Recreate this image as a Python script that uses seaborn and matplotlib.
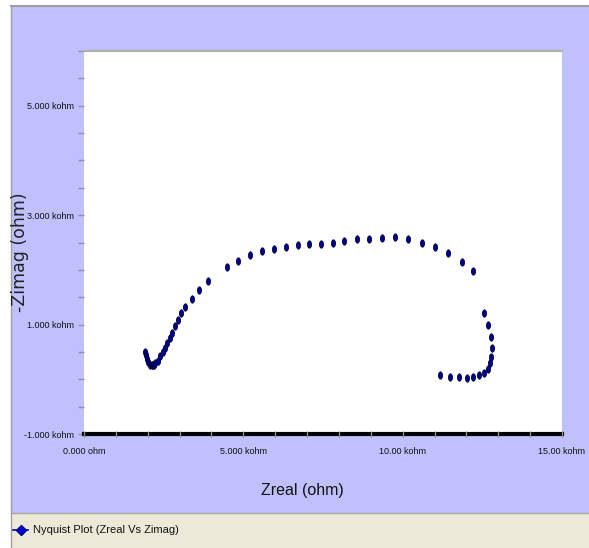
import matplotlib
matplotlib.use("Agg")
import numpy as np
import pandas as pd
import seaborn as sns
import matplotlib.pyplot as plt
from matplotlib.path import Path
from matplotlib.patches import Rectangle
from matplotlib.lines import Line2D
from matplotlib.ticker import MultipleLocator

# ---- data (kohm) ----
zreal_kohm = [1.91, 1.94, 1.97, 2.02, 2.07, 2.12, 2.15, 2.19, 2.23, 2.31, 2.39, 2.47, 2.54, 2.62,
              2.70, 2.77, 2.87, 2.95, 3.03,
              3.17, 3.38, 3.61, 3.88, 4.48, 4.84, 5.22, 5.58, 5.97, 6.35, 6.71, 7.07, 7.44, 7.81,
              8.17, 8.56, 8.94, 9.34, 9.76, 10.17, 10.60, 11.02, 11.43, 11.85, 12.20,
              12.56, 12.68, 12.77, 12.80, 12.78, 12.74, 12.68, 12.54, 12.39, 12.21, 12.02, 11.76,
              11.48, 11.17]
zimag_kohm = [0.50, 0.44, 0.37, 0.31, 0.27, 0.26, 0.27, 0.27, 0.29, 0.34, 0.42, 0.49, 0.57, 0.66,
              0.75, 0.85, 0.97, 1.08, 1.21,
              1.32, 1.47, 1.63, 1.80, 2.05, 2.17, 2.28, 2.34, 2.39, 2.42, 2.45, 2.47, 2.48, 2.50,
              2.53, 2.56, 2.56, 2.59, 2.60, 2.56, 2.50, 2.42, 2.30, 2.14, 1.97,
              1.22, 0.99, 0.77, 0.57, 0.40, 0.29, 0.18, 0.12, 0.07, 0.04, 0.03, 0.04,
              0.05, 0.08]

x_ticks = [0, 5, 10, 15]
x_tick_labels = ["0.000 ohm", "5.000 kohm", "10.00 kohm", "15.00 kohm"]
y_ticks = [-1, 1, 3, 5]
y_tick_labels = ["-1.000 kohm", "1.000 kohm", "3.000 kohm", "5.000 kohm"]
legend_label = "Nyquist Plot (Zreal Vs Zimag)"

df = pd.DataFrame({"Zreal": zreal_kohm, "Zimag": zimag_kohm})

W, H = 589, 548
fig = plt.figure(figsize=(W / 100, H / 100), dpi=100)
fig.patch.set_facecolor("white")

def fx(px):
    return px / W

def fy(py):
    return 1 - py / H

narrow = ["Liberation Sans Narrow", "Liberation Sans", "DejaVu Sans"]

# background panels
fig.add_artist(Rectangle((fx(11), fy(548)), fx(578), (548 - 5) / H, transform=fig.transFigure,
                         facecolor="#C0C0FF", edgecolor="none", zorder=0))
fig.add_artist(Rectangle((fx(11), fy(548)), fx(578), (548 - 513) / H, transform=fig.transFigure,
                         facecolor="#ECE9D8", edgecolor="none", zorder=0))
fig.add_artist(Line2D([fx(11), fx(589)], [fy(5.5), fy(5.5)], transform=fig.transFigure,
                      color="#A0A0A0", lw=1.5, zorder=1))
fig.add_artist(Line2D([fx(11), fx(11)], [fy(5.5), fy(548)], transform=fig.transFigure,
                      color="#A0A0A0", lw=1.0, zorder=1))
fig.add_artist(Line2D([fx(11), fx(589)], [fy(512.5), fy(512.5)], transform=fig.transFigure,
                      color="#A8A8A0", lw=1.0, zorder=1))

ax = fig.add_axes([fx(84), fy(434), fx(562 - 84), (434 - 51) / H])
ax.set_facecolor("white")

theta = np.linspace(0, 2 * np.pi, 40)
ell = Path(np.c_[0.55 * np.cos(theta), np.sin(theta)], closed=True)

sns.scatterplot(data=df, x="Zreal", y="Zimag", ax=ax, marker=ell, s=28,
                color="#000090", edgecolor="#000030", linewidth=0.6, legend=False, zorder=4)

ax.set_xlim(0, 15)
ax.set_ylim(-1, 6)
ax.set_xticks(x_ticks)
ax.set_xticklabels(x_tick_labels)
ax.set_yticks(y_ticks)
ax.set_yticklabels(y_tick_labels)
ax.xaxis.set_minor_locator(MultipleLocator(1))
ax.yaxis.set_minor_locator(MultipleLocator(0.5))
for lab in ax.get_xticklabels() + ax.get_yticklabels():
    lab.set_family(narrow)
    lab.set_fontsize(6.5)
    lab.set_color("#111111")

ax.tick_params(axis="x", which="both", direction="inout", length=5, width=1,
               color="#8C8C80", pad=7)
ax.tick_params(axis="y", which="both", direction="out", length=4, width=1,
               color="#9090A0", pad=3)
ax.xaxis.set_zorder(5)

for s in ["left", "right"]:
    ax.spines[s].set_visible(False)
ax.spines["top"].set_color("#B0B0A8")
ax.spines["top"].set_linewidth(1.5)
ax.spines["bottom"].set_color("black")
ax.spines["bottom"].set_linewidth(3)

ax.set_xlabel("")
ax.set_ylabel("")
fig.text(fx(302), fy(491), "Zreal (ohm)", ha="center", va="center", fontsize=11.5,
         family=narrow, color="#111111")
fig.text(fx(20), fy(252), "-Zimag (ohm)", ha="center", va="center", rotation=90,
         fontsize=12.5, family=["DejaVu Sans"], color="#222222")

# legend strip
fig.add_artist(Line2D([fx(13), fx(28)], [fy(530), fy(530)], transform=fig.transFigure,
                      color="#0000C0", lw=1.2, zorder=3))
fig.add_artist(Line2D([fx(20.5)], [fy(530)], transform=fig.transFigure, color="#0000C0",
                      marker="D", markersize=5.5, markerfacecolor="#0000E0",
                      markeredgecolor="#000080", linestyle="none", zorder=4))
fig.text(fx(33), fy(530), legend_label, ha="left", va="center", fontsize=8,
         family=narrow, color="#111111")

fig.savefig("out.png", dpi=100)
